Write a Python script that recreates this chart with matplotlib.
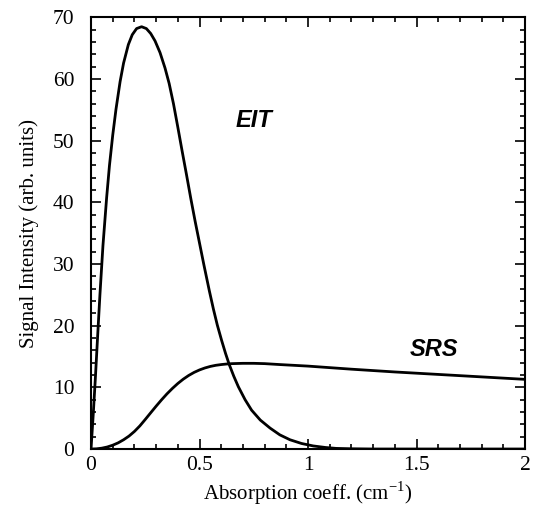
import matplotlib
matplotlib.use("Agg")
import matplotlib.pyplot as plt
from matplotlib.ticker import MultipleLocator

plt.rcParams['font.family'] = ['Liberation Serif', 'DejaVu Serif']
plt.rcParams['mathtext.fontset'] = 'custom'
plt.rcParams['mathtext.rm'] = 'Liberation Serif'

# EIT signal
eit_x = [0.0, 0.01, 0.02, 0.03, 0.041, 0.055, 0.072, 0.085, 0.1, 0.115, 0.134,
         0.15, 0.172, 0.19, 0.21, 0.233, 0.255, 0.275, 0.295, 0.318, 0.341,
         0.36, 0.38, 0.40, 0.42, 0.44, 0.46, 0.48, 0.50, 0.52, 0.545, 0.564,
         0.582, 0.602, 0.62, 0.637, 0.658, 0.679, 0.71, 0.74, 0.78, 0.825,
         0.87, 0.917, 0.97, 1.024, 1.08, 1.13, 1.2, 1.3, 1.5, 2.0]
eit_y = [0.0, 5.5, 11.5, 18.0, 25.0, 33.0, 40.8, 46.0, 50.9, 55.1, 59.6,
         62.6, 65.6, 67.2, 68.2, 68.5, 68.2, 67.4, 66.2, 64.3, 61.8,
         59.3, 56.0, 52.2, 48.3, 44.5, 40.6, 36.9, 33.4, 29.9, 25.7, 22.7,
         20.1, 17.6, 15.5, 13.7, 11.8, 10.1, 8.0, 6.3, 4.7, 3.4,
         2.3, 1.5, 0.9, 0.5, 0.25, 0.1, 0.04, 0.0, 0.0, 0.0]

# SRS signal
srs_x = [0.0, 0.025, 0.05, 0.075, 0.1, 0.125, 0.15, 0.175, 0.2, 0.225, 0.25,
         0.275, 0.3, 0.325, 0.35, 0.375, 0.4, 0.425, 0.45, 0.475, 0.5, 0.525,
         0.55, 0.575, 0.6, 0.625, 0.65, 0.7, 0.75, 0.8, 0.87, 1.0, 1.2, 1.4,
         1.6, 1.8, 2.0]
srs_y = [0.0, 0.03, 0.14, 0.33, 0.62, 1.0, 1.5, 2.1, 2.85, 3.75, 4.8,
         5.88, 6.95, 7.98, 8.95, 9.83, 10.63, 11.33, 11.93, 12.43, 12.83, 13.15,
         13.4, 13.58, 13.7, 13.79, 13.85, 13.9, 13.9, 13.85, 13.7, 13.45, 12.95, 12.5,
         12.1, 11.7, 11.3]

x_ticks = [0, 0.5, 1, 1.5, 2]
x_tick_labels = ['0', '0.5', '1', '1.5', '2']
y_ticks = [0, 10, 20, 30, 40, 50, 60, 70]

fig = plt.figure(figsize=(5.37, 5.08), dpi=100)
ax = fig.add_axes([0.1695, 0.1161, 0.8082, 0.8495])

ax.plot(eit_x, eit_y, color='black', lw=2.0, solid_joinstyle='round')
ax.plot(srs_x, srs_y, color='black', lw=2.0, solid_joinstyle='round')

ax.set_xlim(0, 2)
ax.set_ylim(0, 70)
ax.set_xticks(x_ticks)
ax.set_xticklabels(x_tick_labels)
ax.set_yticks(y_ticks)
ax.xaxis.set_minor_locator(MultipleLocator(0.1))
ax.yaxis.set_minor_locator(MultipleLocator(2))
ax.tick_params(which='both', direction='in', top=True, right=True, width=1.2,
               labelsize=15.5, colors='black')
ax.tick_params(which='major', length=7)
ax.tick_params(which='minor', length=3.5)
ax.tick_params(axis='y', which='major', pad=12)
ax.tick_params(axis='x', which='major', pad=5)
for s in ax.spines.values():
    s.set_linewidth(1.5)

ax.set_xlabel('Absorption coeff. (cm$^{-1}$)', fontsize=15, labelpad=3)
ax.set_ylabel('Signal Intensity (arb. units)', fontsize=15, labelpad=10)

ax.text(0.75, 53.3, 'EIT', fontsize=17, fontweight='bold', fontstyle='italic',
        family='Liberation Sans', ha='center', va='center')
ax.text(1.58, 16.2, 'SRS', fontsize=17, fontweight='bold', fontstyle='italic',
        family='Liberation Sans', ha='center', va='center')

fig.savefig('out.png', dpi=100)
